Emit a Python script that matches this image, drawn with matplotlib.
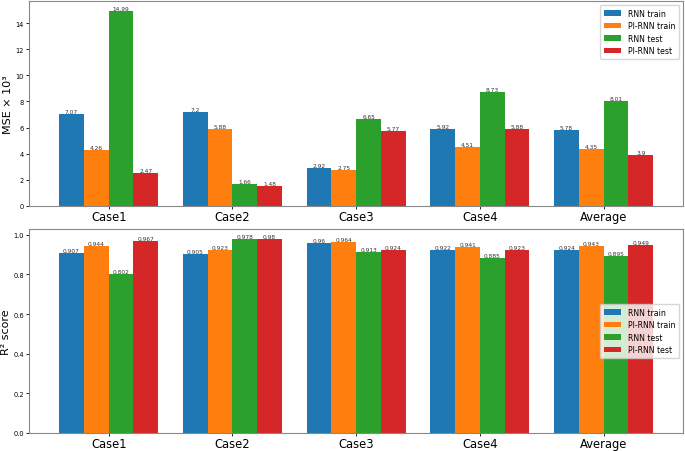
import numpy as np
import matplotlib.pyplot as plt

cases = ['Case1', 'Case2', 'Case3', 'Case4', 'Average']
labels = ['RNN train', 'PI-RNN train', 'RNN test', 'PI-RNN test']
colors = ['#1f77b4', '#ff7f0e', '#2ca02c', '#d62728']

# MSE x 10^3
mse_rnn_train = [7.07, 7.2, 2.92, 5.92, 5.78]
mse_pirnn_train = [4.26, 5.88, 2.75, 4.51, 4.35]
mse_rnn_test = [14.99, 1.66, 6.65, 8.73, 8.01]
mse_pirnn_test = [2.47, 1.48, 5.77, 5.88, 3.9]

# R2 score
r2_rnn_train = [0.907, 0.905, 0.96, 0.922, 0.924]
r2_pirnn_train = [0.944, 0.923, 0.964, 0.941, 0.943]
r2_rnn_test = [0.802, 0.978, 0.913, 0.885, 0.895]
r2_pirnn_test = [0.967, 0.98, 0.924, 0.923, 0.949]

fig = plt.figure(figsize=(6.85, 4.52), dpi=100)
ax1 = fig.add_axes([0.043, 0.543, 0.954, 0.453])
ax2 = fig.add_axes([0.043, 0.040, 0.954, 0.451])

x = np.arange(len(cases))
w = 0.2

def draw(ax, series, ylabel, legend_loc):
    for i, vals in enumerate(series):
        pos = x + (i - 1.5) * w
        bars = ax.bar(pos, vals, w, color=colors[i], label=labels[i])
        for b, v in zip(bars, vals):
            ax.text(b.get_x() + b.get_width() / 2, v, str(v), ha='center', va='bottom',
                    fontsize=4.2, color='#333333')
    ax.set_xticks(x)
    ax.set_xticklabels(cases, fontsize=8.3)
    ax.tick_params(axis='y', labelsize=4.8, length=2, width=0.6, pad=2)
    ax.tick_params(axis='x', length=2, width=0.6, pad=1)
    ax.set_ylabel(ylabel, fontsize=8, labelpad=1.5)
    for s in ax.spines.values():
        s.set_color('#888888')
    ax.legend(loc=legend_loc, fontsize=5.6, handlelength=2.2, borderpad=0.5, labelspacing=0.45)

draw(ax1, [mse_rnn_train, mse_pirnn_train, mse_rnn_test, mse_pirnn_test], 'MSE × 10³', 'upper right')
draw(ax2, [r2_rnn_train, r2_pirnn_train, r2_rnn_test, r2_pirnn_test], 'R² score', 'center right')
ax2.set_yticks([0.0, 0.2, 0.4, 0.6, 0.8, 1.0])

fig.savefig('out.png', dpi=100)
